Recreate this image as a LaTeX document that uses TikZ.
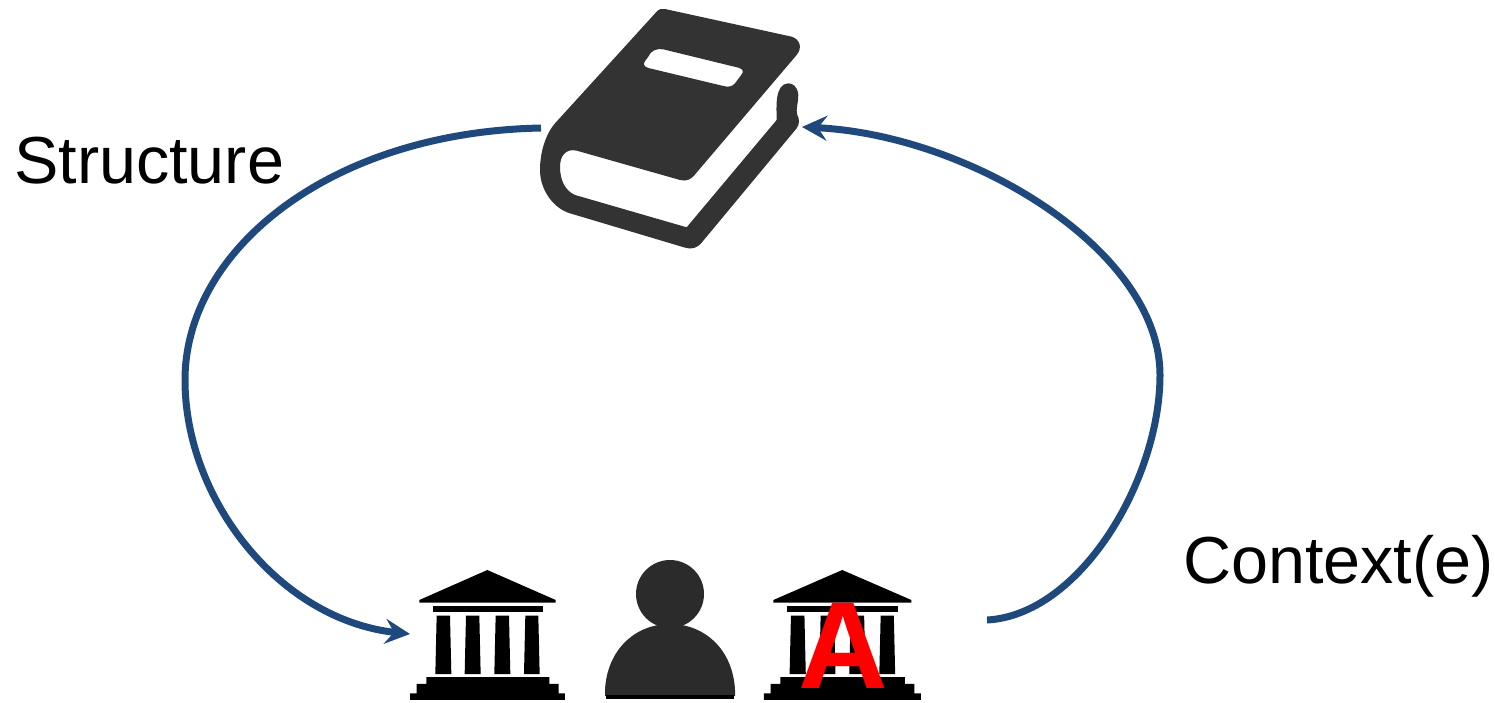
\documentclass[tikz,border=0pt]{standalone}
\usepackage{fontspec}
\setmainfont{Liberation Sans}
\usetikzlibrary{arrows.meta}
\definecolor{arrowblue}{HTML}{1F497D}
\definecolor{bookgray}{HTML}{333333}
\definecolor{persongray}{HTML}{2B2B2B}
\tikzset{
  link/.style={draw=arrowblue,line width=7pt},
  linktip/.style={-{Stealth[length=25pt,width=25pt,inset=9pt]}},
  lbl/.style={inner sep=0pt,anchor=base west,font=\fontsize{66.5}{70}\selectfont}
}
\newcommand{\templeshape}{%
    \fill[black] (322,60) -- (527,150) -- (527,158) -- (118,158) -- (118,150) -- cycle;
    \fill[black] (158,168) rectangle (488,187);
    \fill[black] (170,197) -- (210,197) -- (214,372) -- (166,372) -- cycle;
    \fill[black] (258,197) -- (298,197) -- (302,372) -- (254,372) -- cycle;
    \fill[black] (347,197) -- (387,197) -- (391,372) -- (343,372) -- cycle;
    \fill[black] (436,197) -- (475,197) -- (479,372) -- (432,372) -- cycle;
    \fill[black] (139,381) -- (508,381) -- (508,402) -- (536,402) -- (536,430) -- (555,430) -- (555,450)
      -- (90,450) -- (90,430) -- (110,430) -- (110,402) -- (139,402) -- cycle;
}
\begin{document}
\begin{tikzpicture}[x=1pt,y=-1pt]
\useasboundingbox (0,0) rectangle (1495,702);
% book
\begin{scope}[shift={(520,0)},x=0.3333pt,y=-0.3333pt]
\fill[bookgray,even odd rule]
  (410,35) -- (105,370) .. controls (75,405) and (60,460) .. (60,510)
  .. controls (60,570) and (100,625) .. (150,640)
  -- (495,743) .. controls (515,749) and (530,745) .. (545,728)
  -- (830,385) .. controls (840,372) and (838,355) .. (832,345)
  .. controls (826,330) and (836,305) .. (835,285)
  .. controls (833,258) and (817,250) .. (805,250)
  .. controls (785,250) and (775,270) .. (772,290)
  .. controls (768,315) and (770,340) .. (770,360)
  -- (500,682) -- (165,585) .. controls (135,572) and (120,540) .. (120,500)
  .. controls (120,465) and (140,445) .. (170,452)
  -- (480,540) .. controls (500,545) and (512,538) .. (522,527)
  -- (830,165) .. controls (848,143) and (840,118) .. (815,110)
  -- (435,27) .. controls (425,25) and (417,27) .. (410,35) -- cycle
  (385,170) .. controls (395,150) and (410,145) .. (430,148)
  -- (655,203) .. controls (670,207) and (672,215) .. (663,226)
  -- (645,250) .. controls (637,260) and (625,262) .. (610,258)
  -- (385,204) .. controls (372,200) and (368,192) .. (376,182) -- cycle;
\end{scope}
% temples
\begin{scope}[shift={(380,550)},x=0.3333pt,y=-0.3333pt]
\templeshape
\end{scope}
\begin{scope}[shift={(733.6,550)},x=0.3373pt,y=-0.3333pt]
\templeshape
\end{scope}
% person
\fill[persongray] (670,594) circle[radius=34];
\fill[persongray] (605,690) .. controls (607,650) and (635,624) .. (670,624)
  .. controls (705,624) and (733,650) .. (735,690) -- (735,696) -- (605,696) -- cycle;
\fill[black] (606,695) rectangle (734,699);
% red letter
\node[inner sep=0pt,anchor=base,text=red,font=\fontsize{124}{130}\selectfont\bfseries] (lettera) at (843,688) {A};
% labels
\node[lbl] (structure) at (14,183) {Structure};
\node[lbl] (contexte) at (1183,583) {Context(e)};
% anchors
\coordinate (bookleft) at (541,128);
\coordinate (bookright) at (802,127);
\coordinate (templein) at (410,634);
\coordinate (templeout) at (987,620);
\coordinate (leftmid) at (185,380);
\coordinate (rightmid) at (1160,375);
% connectors
\draw[link,linktip] (bookleft) .. controls (330,132) and (185,250) .. (leftmid)
  .. controls (185,500) and (280,620) .. (templein);
\draw[link,linktip] (templeout) .. controls (1080,615) and (1160,480) .. (rightmid)
  .. controls (1160,250) and (970,135) .. (bookright);
\end{tikzpicture}
\end{document}
